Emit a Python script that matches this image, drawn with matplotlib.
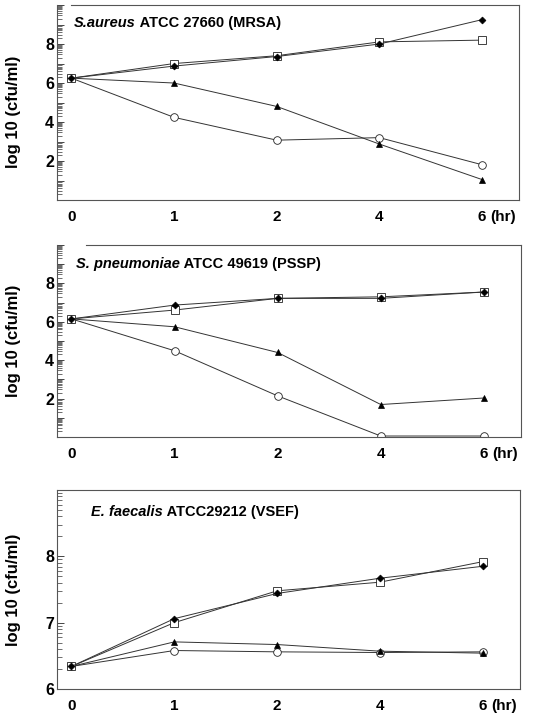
import matplotlib.pyplot as plt
import numpy as np
from matplotlib.ticker import FixedLocator, FuncFormatter

plt.rcParams['font.family'] = ['Liberation Sans', 'DejaVu Sans']

hours = ['0', '1', '2', '4', '6']

# panel 1: S. aureus (MRSA)
sa_diamond = [6.25, 6.87, 7.36, 8.00, 9.25]
sa_square = [6.25, 7.00, 7.40, 8.11, 8.20]
sa_triangle = [6.25, 6.00, 4.80, 2.87, 1.05]
sa_circle = [6.25, 4.24, 3.07, 3.20, 1.81]

# panel 2: S. pneumoniae (PSSP)
sp_diamond = [6.15, 6.87, 7.22, 7.22, 7.55]
sp_square = [6.15, 6.61, 7.22, 7.30, 7.55]
sp_triangle = [6.15, 5.74, 4.40, 1.69, 2.03]
sp_circle = [6.15, 4.49, 2.14, 0.05, 0.05]

# panel 3: E. faecalis (VSEF)
ef_diamond = [6.34, 7.06, 7.44, 7.67, 7.85]
ef_square = [6.34, 7.00, 7.48, 7.61, 7.92]
ef_triangle = [6.34, 6.71, 6.67, 6.57, 6.54]
ef_circle = [6.34, 6.58, 6.56, 6.55, 6.56]

panels = [
    dict(pos=[0.1046, 0.7214, 0.8477, 0.2716], ylim=(0, 10), labels=[2, 4, 6, 8],
         top_from=0.0, it='S.aureus', rest=' ATCC 27660 (MRSA)', tx=0.037, ty=0.885, ly=0.45,
         data=(sa_circle, sa_triangle, sa_square, sa_diamond)),
    dict(pos=[0.1046, 0.3914, 0.8514, 0.2674], ylim=(0, 10), labels=[2, 4, 6, 8],
         top_from=0.14, it='S. pneumoniae', rest=' ATCC 49619 (PSSP)', tx=0.041, ty=0.88, ly=0.5,
         data=(sp_circle, sp_triangle, sp_square, sp_diamond)),
    dict(pos=[0.1046, 0.0404, 0.8495, 0.2772], ylim=(6, 9), labels=[6, 7, 8],
         top_from=None, it='E. faecalis', rest=' ATCC29212 (VSEF)', tx=0.074, ty=0.87, ly=0.5,
         data=(ef_circle, ef_triangle, ef_square, ef_diamond)),
]

styles = [
    dict(marker='o', mfc='white', mec='#222222', ms=5.5, mew=0.6),
    dict(marker='^', mfc='black', mec='black', ms=4.5, mew=0.5),
    dict(marker='s', mfc='white', mec='#222222', ms=5.5, mew=0.6),
    dict(marker='D', mfc='black', mec='black', ms=3.5, mew=0.5),
]

fig = plt.figure(figsize=(5.45, 7.18), dpi=100)
x = np.arange(len(hours))

for p in panels:
    ax = fig.add_axes(p['pos'])
    for series, st in zip(p['data'], styles):
        ax.plot(x, series, color='#333333', lw=0.7, **st)
    ax.set_xlim(-0.14, 4.36)
    lo, hi = p['ylim']
    ax.set_ylim(lo, hi)

    majors = list(range(lo, hi + 1))
    minors = [n + np.log10(k) for n in range(lo, hi) for k in range(2, 10)]
    ax.yaxis.set_major_locator(FixedLocator(majors))
    ax.yaxis.set_minor_locator(FixedLocator(minors))
    labs = p['labels']
    ax.yaxis.set_major_formatter(FuncFormatter(lambda v, pos, labs=labs: '%d' % round(v) if round(v) in labs else ''))
    ax.tick_params(axis='y', which='major', direction='in', length=5, width=0.7, color='#444444',
                   labelsize=11.5, pad=2)
    ax.tick_params(axis='y', which='minor', direction='in', length=3.5, width=0.6, color='#555555')
    ax.set_xticks(x)
    ax.set_xticklabels(hours)
    ax.tick_params(axis='x', length=0, labelsize=11, pad=7)
    for lab in ax.get_xticklabels() + ax.get_yticklabels():
        lab.set_fontweight('bold')

    for s in ax.spines.values():
        s.set_color('#555555')
        s.set_linewidth(0.8)
    if p['top_from'] is not None:
        ax.spines['top'].set_bounds(p['top_from'], 4.36)

    ax.set_ylabel('log 10 (cfu/ml)', fontsize=12, fontweight='bold')
    ax.yaxis.set_label_coords(-0.078, p['ly'])

    ax.annotate('(hr)', xy=(4.08, 0), xycoords=ax.get_xaxis_transform(),
                xytext=(0, -7), textcoords='offset points', ha='left', va='top',
                fontsize=11, fontweight='bold')

    t1 = ax.text(p['tx'], p['ty'], p['it'], transform=ax.transAxes, fontsize=10.5,
                 fontweight='bold', fontstyle='italic', va='baseline', ha='left')
    ax.annotate(p['rest'], xy=(1, 0), xycoords=t1, va='bottom', ha='left',
                fontsize=10.5, fontweight='bold')

fig.savefig('out.png', dpi=100)
